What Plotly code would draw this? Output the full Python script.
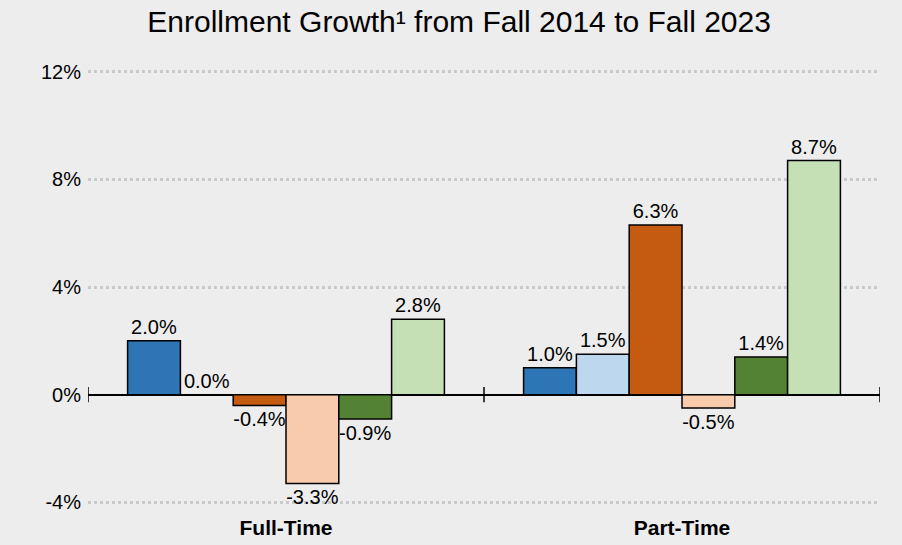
import plotly.graph_objects as go

# Data
categories = ["Full-Time", "Part-Time"]
series_names = ["Group 1", "Group 2", "Group 3", "Group 4", "Group 5", "Group 6"]
series_values = [
    [2.0, 1.0],
    [0.0, 1.5],
    [-0.4, 6.3],
    [-3.3, -0.5],
    [-0.9, 1.4],
    [2.8, 8.7],
]
series_colors = ["#2E75B6", "#BDD7EE", "#C55A11", "#F8CBAD", "#548235", "#C5E0B4"]
y_ticks = [-4, 0, 4, 8, 12]
y_tick_labels = ["-4%", "0%", "4%", "8%", "12%"]

bg = "#EDEDED"
fam = "Liberation Sans, Arial, sans-serif"

fig = go.Figure()
for name, vals, color in zip(series_names, series_values, series_colors):
    fig.add_trace(go.Bar(
        x=categories, y=vals, name=name,
        marker=dict(color=color, line=dict(color="#000000", width=1.5)),
        text=[f"{v:.1f}%" for v in vals], textposition="outside",
        textfont=dict(size=20, color="#000000"), cliponaxis=False,
    ))

# zero line tick marks at category boundaries
for xb in [-0.5, 0.5, 1.5]:
    fig.add_shape(type="line", xref="x", yref="y", x0=xb, x1=xb, y0=-0.28, y1=0.28,
                  line=dict(color="#000000", width=1.5))

fig.update_layout(
    title=dict(text="Enrollment Growth¹ from Fall 2014 to Fall 2023",
               x=0.509, xanchor="center", y=0.96, yanchor="middle",
               font=dict(size=30, color="#000000")),
    font=dict(family=fam, color="#000000"),
    paper_bgcolor=bg, plot_bgcolor=bg,
    barmode="group", bargap=0.2, bargroupgap=0,
    showlegend=False,
    width=902, height=545,
    margin=dict(l=88, r=22, t=69, b=40, autoexpand=False),
    uniformtext=dict(mode=False),
)
fig.update_xaxes(
    range=[-0.5, 1.5], showgrid=False, zeroline=False, showline=False, ticks="",
    tickfont=dict(size=21, color="#000000", family=fam),
    tickprefix="<b>", ticksuffix="</b>", ticklabelstandoff=8, automargin=False,
)
fig.update_yaxes(
    range=[-4.1, 12.1], tickvals=y_ticks, ticktext=y_tick_labels,
    showgrid=True, gridcolor="#CACACA", griddash="dot", gridwidth=2.5,
    zeroline=True, zerolinecolor="#000000", zerolinewidth=2,
    showline=False, ticks="", ticklabelstandoff=6, automargin=False,
    tickfont=dict(size=20, color="#000000"),
)

fig.write_html("out.html", config={"displayModeBar": False},
               post_script="document.body.style.margin='0';document.body.style.overflow='hidden';")
